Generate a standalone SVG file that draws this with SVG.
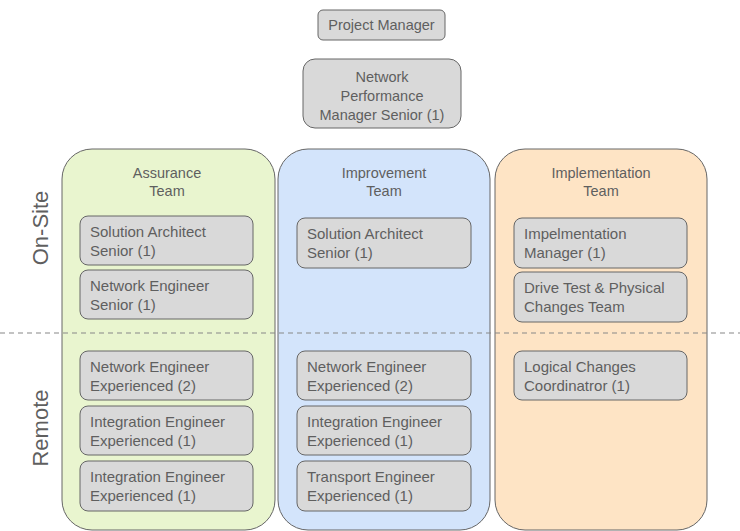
<svg xmlns="http://www.w3.org/2000/svg" width="740" height="531" viewBox="0 0 740 531">
  <style>
    text { font-family: "Liberation Sans", Arial, sans-serif; fill: #5f5f5f; }
    .t { font-size: 15px; }
    .h { font-size: 14.5px; text-anchor: middle; }
    .top { font-size: 14.5px; text-anchor: middle; }
    .side { font-size: 22px; text-anchor: middle; }
    .role { fill: #d9d9d9; stroke: #666; stroke-width: 1; }
    .lane { stroke: #666; stroke-width: 1; }
    .sep { stroke: #888; stroke-width: 1.2; stroke-dasharray: 5 4; fill: none; }
  </style>
  <rect width="740" height="531" fill="#fff"/>

  <!-- team containers -->
  <g id="assurance-team">
    <rect class="lane" x="62" y="149" width="213" height="381" rx="30" fill="#e9f5cf"/>
    <text class="h" x="167" y="178">Assurance</text>
    <text class="h" x="167" y="196">Team</text>
  </g>
  <g id="improvement-team">
    <rect class="lane" x="278" y="149" width="212" height="381" rx="30" fill="#d3e4fb"/>
    <text class="h" x="384" y="178">Improvement</text>
    <text class="h" x="384" y="196">Team</text>
  </g>
  <g id="implementation-team">
    <rect class="lane" x="495" y="149" width="212" height="381" rx="30" fill="#fee4c5"/>
    <text class="h" x="601" y="178">Implementation</text>
    <text class="h" x="601" y="196">Team</text>
  </g>

  <!-- on-site / remote divider -->
  <g id="connectors">
    <line class="sep" x1="0" y1="333" x2="740" y2="333"/>
  </g>

  <g id="label-onsite"><text class="side" transform="translate(48 228) rotate(-90)">On-Site</text></g>
  <g id="label-remote"><text class="side" transform="translate(48 428) rotate(-90)">Remote</text></g>

  <!-- management -->
  <g id="project-manager">
    <rect class="role" x="318" y="10" width="127" height="30" rx="5"/>
    <text class="top" x="381.5" y="30">Project Manager</text>
  </g>
  <g id="npm-senior">
    <rect class="role" x="303" y="59" width="158" height="69" rx="12"/>
    <text class="top" x="382" y="82">Network</text>
    <text class="top" x="382" y="101">Performance</text>
    <text class="top" x="382" y="120">Manager Senior (1)</text>
  </g>

  <!-- assurance roles -->
  <g id="a-sa-senior">
    <rect class="role" x="80" y="216" width="173" height="49" rx="8"/>
    <text class="t" x="90" y="237">Solution Architect</text>
    <text class="t" x="90" y="256">Senior (1)</text>
  </g>
  <g id="a-ne-senior">
    <rect class="role" x="80" y="270" width="173" height="49" rx="8"/>
    <text class="t" x="90" y="291">Network Engineer</text>
    <text class="t" x="90" y="310">Senior (1)</text>
  </g>
  <g id="a-ne-exp">
    <rect class="role" x="80" y="351" width="173" height="49" rx="8"/>
    <text class="t" x="90" y="372">Network Engineer</text>
    <text class="t" x="90" y="391">Experienced (2)</text>
  </g>
  <g id="a-ie-exp-1">
    <rect class="role" x="80" y="406" width="173" height="49" rx="8"/>
    <text class="t" x="90" y="427">Integration Engineer</text>
    <text class="t" x="90" y="446">Experienced (1)</text>
  </g>
  <g id="a-ie-exp-2">
    <rect class="role" x="80" y="461" width="173" height="50" rx="8"/>
    <text class="t" x="90" y="482">Integration Engineer</text>
    <text class="t" x="90" y="501">Experienced (1)</text>
  </g>

  <!-- improvement roles -->
  <g id="i-sa-senior">
    <rect class="role" x="297" y="218" width="174" height="50" rx="8"/>
    <text class="t" x="307" y="239">Solution Architect</text>
    <text class="t" x="307" y="258">Senior (1)</text>
  </g>
  <g id="i-ne-exp">
    <rect class="role" x="297" y="351" width="174" height="49" rx="8"/>
    <text class="t" x="307" y="372">Network Engineer</text>
    <text class="t" x="307" y="391">Experienced (2)</text>
  </g>
  <g id="i-ie-exp">
    <rect class="role" x="297" y="406" width="174" height="49" rx="8"/>
    <text class="t" x="307" y="427">Integration Engineer</text>
    <text class="t" x="307" y="446">Experienced (1)</text>
  </g>
  <g id="i-te-exp">
    <rect class="role" x="297" y="461" width="174" height="50" rx="8"/>
    <text class="t" x="307" y="482">Transport Engineer</text>
    <text class="t" x="307" y="501">Experienced (1)</text>
  </g>

  <!-- implementation roles -->
  <g id="m-manager">
    <rect class="role" x="514" y="218" width="173" height="50" rx="8"/>
    <text class="t" x="524" y="239">Impelmentation</text>
    <text class="t" x="524" y="258">Manager (1)</text>
  </g>
  <g id="m-drive-test">
    <rect class="role" x="514" y="272" width="173" height="50" rx="8"/>
    <text class="t" x="524" y="293">Drive Test &amp; Physical</text>
    <text class="t" x="524" y="312">Changes Team</text>
  </g>
  <g id="m-logical">
    <rect class="role" x="514" y="351" width="173" height="49" rx="8"/>
    <text class="t" x="524" y="372">Logical Changes</text>
    <text class="t" x="524" y="391">Coordinatror (1)</text>
  </g>
</svg>
